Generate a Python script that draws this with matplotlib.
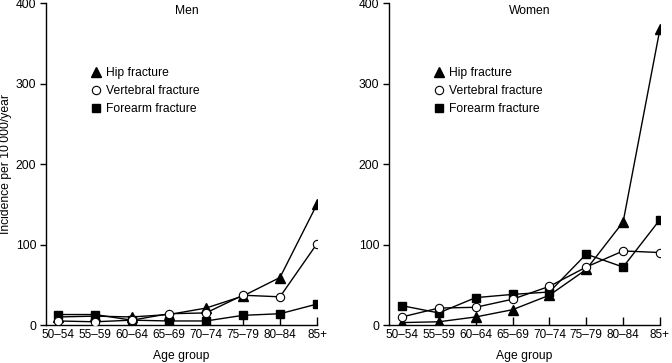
import matplotlib
matplotlib.use("Agg")
import matplotlib.pyplot as plt
from matplotlib.lines import Line2D

plt.rcParams['font.family'] = ['Liberation Sans', 'DejaVu Sans']
plt.rcParams['font.size'] = 8.7

age_groups = ['50\u201354', '55\u201359', '60\u201364', '65\u201369', '70\u201374', '75\u201379', '80\u201384', '85+']

men_hip = [10, 11, 10, 13, 21, 36, 59, 150]
men_vert = [5, 4, 6, 14, 15, 37, 35, 101]
men_fore = [13, 13, 6, 5, 5, 12, 14, 26]

women_hip = [3, 4, 10, 19, 37, 69, 128, 368]
women_vert = [10, 21, 22, 32, 48, 72, 92, 90]
women_fore = [24, 15, 34, 38, 41, 88, 72, 131]

fig = plt.figure(figsize=(6.72, 3.63), dpi=100)
ax1 = fig.add_axes([46/672, 1-325/363, 271/672, 322/363])
ax2 = fig.add_axes([389/672, 1-325/363, 271/672, 322/363])

x = list(range(len(age_groups)))

def draw(ax, hip, vert, fore, title, left):
    ax.plot(x, hip, color='black', lw=1, marker='^', ms=7, mfc='black', mec='black', zorder=3)
    ax.plot(x, fore, color='black', lw=1, marker='s', ms=5.5, mfc='black', mec='black', zorder=3)
    ax.plot(x, vert, color='black', lw=1, marker='o', ms=6, mfc='white', mec='black', mew=0.8, zorder=4)
    ax.set_xlim(left, 7)
    ax.set_ylim(0, 400)
    ax.set_xticks(x)
    ax.set_xticklabels(age_groups, fontsize=8.5)
    ax.set_yticks([0, 100, 200, 300, 400])
    ax.tick_params(axis='x', direction='in', length=6, width=1, pad=3)
    ax.tick_params(axis='y', direction='out', length=4, width=1, pad=3)
    for s in ['top', 'right']:
        ax.spines[s].set_visible(False)
    for s in ['left', 'bottom']:
        ax.spines[s].set_linewidth(1)
    ax.set_xlabel('Age group', labelpad=6)
    ax.text(0.52, 0.995, title, transform=ax.transAxes, ha='center', va='top')
    handles = [
        Line2D([], [], ls='none', marker='^', ms=7, mfc='black', mec='black'),
        Line2D([], [], ls='none', marker='o', ms=6, mfc='white', mec='black', mew=0.8),
        Line2D([], [], ls='none', marker='s', ms=5.5, mfc='black', mec='black'),
    ]
    ax.legend(handles, ['Hip fracture', 'Vertebral fracture', 'Forearm fracture'], frameon=False,
              loc='upper left', bbox_to_anchor=(0.145, 0.82), handlelength=0.8,
              handletextpad=0.4, labelspacing=0.5, borderpad=0)

draw(ax1, men_hip, men_vert, men_fore, 'Men', -0.32)
draw(ax2, women_hip, women_vert, women_fore, 'Women', -0.35)
ax1.set_ylabel('Incidence per 10\u2009000/year', family=['Liberation Sans', 'DejaVu Sans'])
ax1.yaxis.set_label_coords(-0.125, 0.5)

fig.savefig('out.png', dpi=100)
